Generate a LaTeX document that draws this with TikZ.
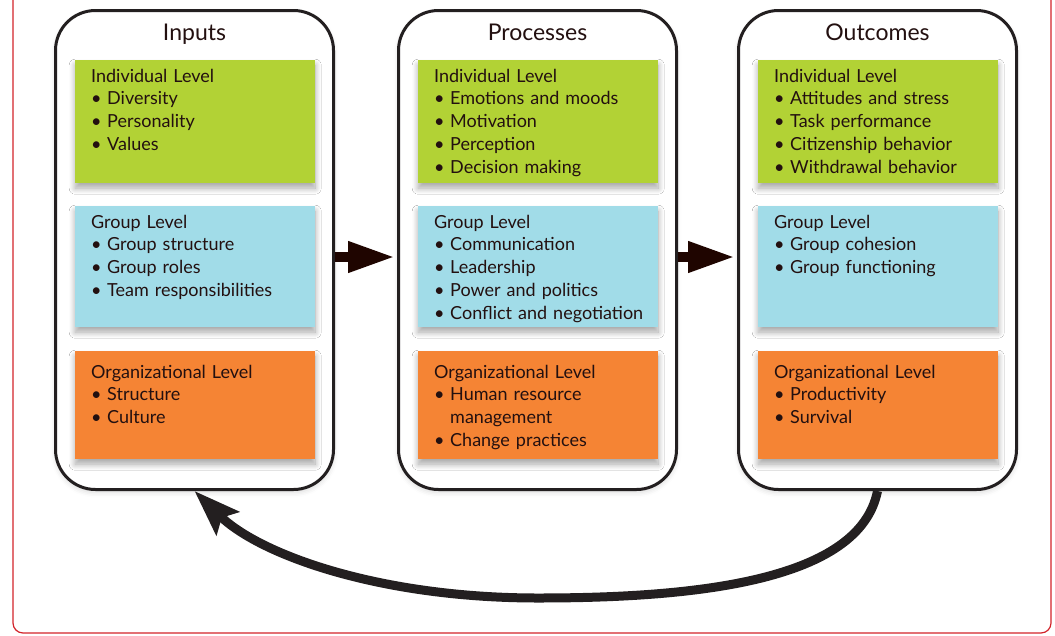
\documentclass[tikz,border=0pt]{standalone}
\usepackage{fontspec}
\setmainfont{Lato}
\usetikzlibrary{arrows.meta,shadows.blur}
\definecolor{grn}{HTML}{B2D235}
\definecolor{blu}{HTML}{A1DCE8}
\definecolor{org}{HTML}{F58434}
\definecolor{ink}{HTML}{231010}
\definecolor{colline}{HTML}{231F20}
\definecolor{arr}{HTML}{1F0500}
\definecolor{frame}{HTML}{D2232A}
\definecolor{shade}{HTML}{4A5A40}
\newcommand{\bul}{\makebox[16pt][l]{•}}
\newcommand{\ind}{\hspace*{16pt}}
\tikzset{
  col/.style={draw=colline, line width=3pt, rounded corners=40pt, fill=white,
    minimum width=278pt, minimum height=479pt, inner sep=0pt, anchor=north west,
    blur shadow={shadow xshift=0pt, shadow yshift=-3pt, shadow blur radius=5pt, shadow opacity=15}},
  lvl/.style={inner sep=0pt, minimum width=240pt, anchor=north west,
    blur shadow={shadow xshift=0pt, shadow yshift=-5pt, shadow blur radius=6pt,
      shadow opacity=35, shadow blur steps=12}},
  txt/.style={anchor=base west, inner sep=0pt, text width=230pt, align=left,
    font=\fontsize{18}{22.75}\selectfont, text=ink},
  ttl/.style={font=\fontsize{23}{26}\selectfont, text=ink, anchor=base, inner sep=0pt},
  flow/.style={draw=arr, line width=10pt, -{Triangle[length=47pt,width=29pt]}, shorten >=2pt},
  loop/.style={draw=colline, line width=9pt, -{Stealth[length=46pt,width=32pt,inset=8pt]}},
}
\begin{document}
\begin{tikzpicture}[x=1pt,y=-1pt]
\useasboundingbox (0,0) rectangle (1055,635);
\draw[draw=frame, line width=1.2pt, rounded corners=10pt] (13,-30) rectangle (1051,633);

% columns
\node[col] (colIn) at (54,9) {};
\node[col] (colPr) at (397,9) {};
\node[col] (colOut) at (737,9) {};

% titles
\node[ttl] (tIn) at ([yshift=-31pt]colIn.north) {Inputs};
\node[ttl] (tPr) at ([yshift=-31pt]colPr.north) {Processes};
\node[ttl] (tOut) at ([yshift=-31pt]colOut.north) {Outcomes};

% level boxes
\foreach \c/\x in {In/75, Pr/418, Out/758}{
  \node[lvl, fill=grn, minimum height=123pt] (g\c) at (\x,60) {};
  \node[lvl, fill=blu, minimum height=121pt] (b\c) at (\x,206) {};
  \node[lvl, fill=org, minimum height=108pt] (o\c) at (\x,351) {};
}

% texts
\node[txt] (gInT) at ([xshift=16pt,yshift=-22pt]gIn.north west)
  {Individual Level\\\bul Diversity\\\bul Personality\\\bul Values};
\node[txt] (bInT) at ([xshift=16pt,yshift=-22pt]bIn.north west)
  {Group Level\\\bul Group structure\\\bul Group roles\\\bul Team responsibilities};
\node[txt] (oInT) at ([xshift=16pt,yshift=-27pt]oIn.north west)
  {Organizational Level\\\bul Structure\\\bul Culture};

\node[txt] (gPrT) at ([xshift=16pt,yshift=-22pt]gPr.north west)
  {Individual Level\\\bul Emotions and moods\\\bul Motivation\\\bul Perception\\\bul Decision making};
\node[txt] (bPrT) at ([xshift=16pt,yshift=-22pt]bPr.north west)
  {Group Level\\\bul Communication\\\bul Leadership\\\bul Power and politics\\\bul Conflict and negotiation};
\node[txt] (oPrT) at ([xshift=16pt,yshift=-27pt]oPr.north west)
  {Organizational Level\\\bul Human resource\\\ind management\\\bul Change practices};

\node[txt] (gOutT) at ([xshift=16pt,yshift=-22pt]gOut.north west)
  {Individual Level\\\bul Attitudes and stress\\\bul Task performance\\\bul Citizenship behavior\\\bul Withdrawal behavior};
\node[txt] (bOutT) at ([xshift=16pt,yshift=-22pt]bOut.north west)
  {Group Level\\\bul Group cohesion\\\bul Group functioning};
\node[txt] (oOutT) at ([xshift=16pt,yshift=-27pt]oOut.north west)
  {Organizational Level\\\bul Productivity\\\bul Survival};

% flow arrows
\draw[flow] ([yshift=-7pt]colIn.east) -- ([yshift=-7pt]colPr.west);
\draw[flow] ([yshift=-7pt]colPr.east) -- ([yshift=-7pt]colOut.west);

% feedback loop
\coordinate (bot) at (538,598);
\draw[loop] (colOut.south) .. controls (860,580) and (700,598) .. (bot)
  .. controls (380,598) and (260,555) .. (colIn.south);
\end{tikzpicture}
\end{document}
